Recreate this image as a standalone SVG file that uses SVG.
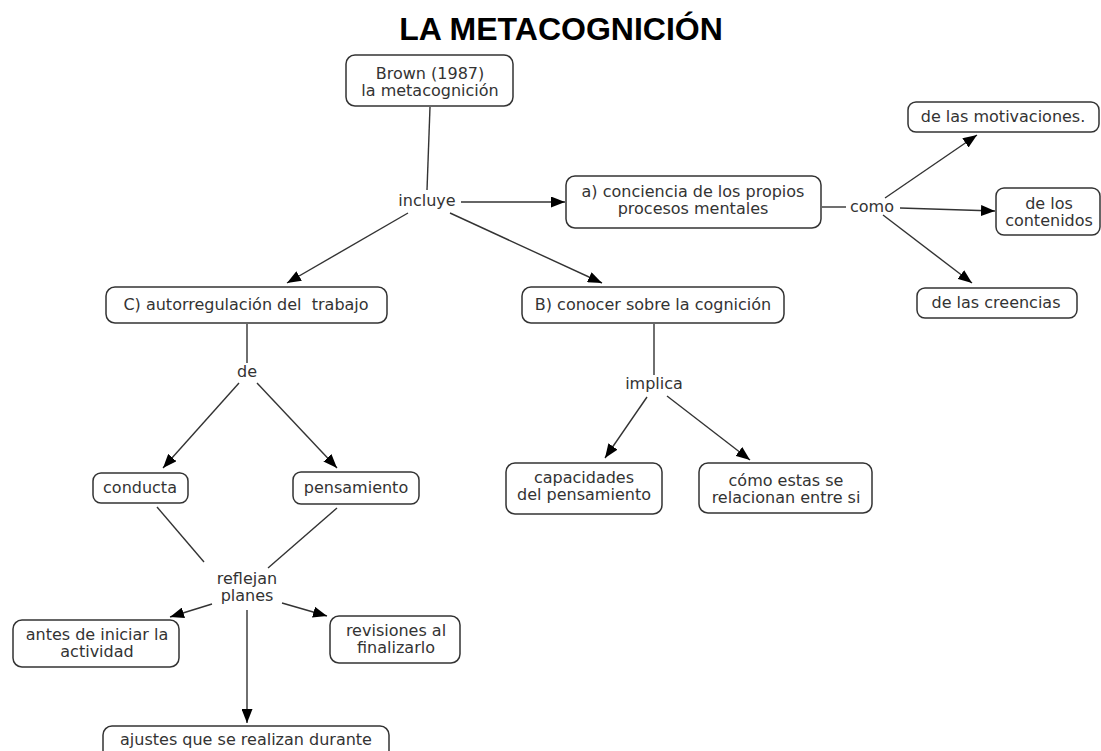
<svg xmlns="http://www.w3.org/2000/svg" width="1101" height="751" viewBox="0 0 1101 751">
<defs>
<marker id="arr" markerUnits="userSpaceOnUse" markerWidth="14" markerHeight="11" refX="14" refY="5.5" orient="auto">
<path d="M0,0 L14,5.5 L0,11 z" fill="#000"/>
</marker>
<style>
.box{fill:#fff;stroke:#333;stroke-width:1.5}
.t{font-family:"DejaVu Sans",Verdana,sans-serif;font-size:16px;fill:#333;text-anchor:middle}
.c{stroke:#333;stroke-width:1.4;fill:none}
.a{marker-end:url(#arr)}
.title{font-family:"Liberation Sans",Arial,sans-serif;font-weight:bold;font-size:32px;fill:#000;text-anchor:middle}
</style>
</defs>
<rect width="1101" height="751" fill="#fff"/>
<text class="title" x="561" y="40">LA METACOGNICIÓN</text>
<g id="connectors">
<line class="c" x1="430" y1="107" x2="427" y2="190"/>
<line class="c a" x1="461" y1="202" x2="565" y2="202"/>
<line class="c a" x1="408" y1="213" x2="287" y2="283"/>
<line class="c a" x1="450" y1="213" x2="602" y2="283"/>
<line class="c" x1="822" y1="207" x2="846" y2="207"/>
<line class="c a" x1="885" y1="198" x2="977" y2="135"/>
<line class="c a" x1="900" y1="208" x2="995" y2="211"/>
<line class="c a" x1="883" y1="215" x2="972" y2="283"/>
<line class="c" x1="247" y1="324" x2="247" y2="363"/>
<line class="c a" x1="239" y1="383" x2="163" y2="468"/>
<line class="c a" x1="257" y1="383" x2="337" y2="468"/>
<line class="c" x1="654" y1="324" x2="654" y2="375"/>
<line class="c a" x1="647" y1="397" x2="605" y2="458"/>
<line class="c a" x1="667" y1="396" x2="750" y2="460"/>
<line class="c" x1="157" y1="507" x2="204" y2="562"/>
<line class="c" x1="337" y1="508" x2="268" y2="568"/>
<line class="c a" x1="212" y1="604" x2="170" y2="617"/>
<line class="c a" x1="282" y1="603" x2="327" y2="616"/>
<line class="c a" x1="247" y1="610" x2="247" y2="723"/>
</g>
<g id="brown"><rect class="box" x="346" y="55" width="167" height="51" rx="9"/><text class="t" x="430" y="79">Brown (1987)</text><text class="t" x="430" y="96">la metacognición</text></g>
<g id="incluye"><text class="t" x="427" y="206">incluye</text></g>
<g id="conciencia"><rect class="box" x="566" y="176" width="255" height="52" rx="9"/><text class="t" x="693" y="197">a) conciencia de los propios</text><text class="t" x="693" y="214">procesos mentales</text></g>
<g id="como"><text class="t" x="872" y="212">como</text></g>
<g id="motivaciones"><rect class="box" x="908" y="102" width="191" height="30" rx="8"/><text class="t" x="1003" y="122">de las motivaciones.</text></g>
<g id="contenidos"><rect class="box" x="996" y="188" width="104" height="47" rx="8"/><text class="t" x="1049" y="209">de los</text><text class="t" x="1049" y="226">contenidos</text></g>
<g id="creencias"><rect class="box" x="917" y="288" width="160" height="30" rx="8"/><text class="t" x="996" y="308">de las creencias</text></g>
<g id="autorregulacion"><rect class="box" x="106" y="287" width="281" height="36" rx="9"/><text class="t" x="246" y="310" xml:space="preserve">C) autorregulación del  trabajo</text></g>
<g id="conocer"><rect class="box" x="522" y="287" width="262" height="36" rx="9"/><text class="t" x="653" y="310">B) conocer sobre la cognición</text></g>
<g id="de"><text class="t" x="247" y="377">de</text></g>
<g id="implica"><text class="t" x="654" y="389">implica</text></g>
<g id="conducta"><rect class="box" x="93" y="473" width="95" height="30" rx="8"/><text class="t" x="140" y="493">conducta</text></g>
<g id="pensamiento"><rect class="box" x="293" y="472" width="126" height="32" rx="8"/><text class="t" x="356" y="493">pensamiento</text></g>
<g id="capacidades"><rect class="box" x="506" y="463" width="156" height="51" rx="9"/><text class="t" x="584" y="483">capacidades</text><text class="t" x="584" y="500">del pensamiento</text></g>
<g id="relacionan"><rect class="box" x="699" y="463" width="173" height="50" rx="9"/><text class="t" x="786" y="486">cómo estas se</text><text class="t" x="786" y="503">relacionan entre si</text></g>
<g id="reflejan"><text class="t" x="247" y="584">reflejan</text><text class="t" x="247" y="601">planes</text></g>
<g id="antes"><rect class="box" x="13" y="620" width="166" height="47" rx="9"/><text class="t" x="97" y="640">antes de iniciar la</text><text class="t" x="97" y="657">actividad</text></g>
<g id="revisiones"><rect class="box" x="330" y="616" width="130" height="47" rx="9"/><text class="t" x="396" y="636">revisiones al</text><text class="t" x="396" y="653">finalizarlo</text></g>
<g id="ajustes"><rect class="box" x="103" y="726" width="286" height="40" rx="9"/><text class="t" x="246" y="745">ajustes que se realizan durante</text></g>
</svg>
